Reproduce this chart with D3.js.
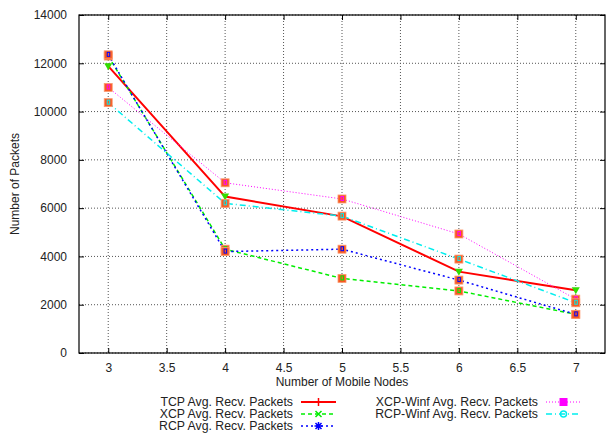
<!DOCTYPE html>
<meta charset="utf-8">
<style>
    body {
        margin: 0;
        background: #fff;
    }
    text {
        font-family: "Liberation Sans", Arial, sans-serif;
        font-size: 12px;
        fill: #222;
    }
</style>

<body>
    <script src="https://cdn.jsdelivr.net/npm/d3@7"></script>
    <script>
        // values
        var nodes = [3, 4, 5, 6, 7];
        var tcp = [11880, 6480, 5660, 3370, 2600];
        var xcp = [12300, 4300, 3090, 2570, 1600];
        var rcp = [12350, 4200, 4300, 3020, 1600];
        var xcpWinf = [11000, 7050, 6380, 4930, 2230];
        var rcpWinf = [10370, 6200, 5670, 3890, 2080];

        var xTicks = [3, 3.5, 4, 4.5, 5, 5.5, 6, 6.5, 7];
        var yTicks = [0, 2000, 4000, 6000, 8000, 10000, 12000, 14000];

        var series = [
            { name: "TCP Avg. Recv. Packets", values: tcp, color: "#ff0000", width: 2, dash: null, mark: "plus" },
            { name: "XCP Avg. Recv. Packets", values: xcp, color: "#00ee00", width: 1.5, dash: "4,3", mark: "cross" },
            { name: "RCP Avg. Recv. Packets", values: rcp, color: "#0000ff", width: 1.5, dash: "2,3", mark: "star" },
            { name: "XCP-Winf Avg. Recv. Packets", values: xcpWinf, color: "#ff00ff", width: 1, dash: "1,2", mark: "square" },
            { name: "RCP-Winf Avg. Recv. Packets", values: rcpWinf, color: "#00eeee", width: 1.5, dash: "6,3,1,3", mark: "circle" }
        ];

        var width = 606,
            height = 434,
            plotLeft = 79,
            plotRight = 605,
            plotTop = 15,
            plotBottom = 353;

        var x = d3.scaleLinear().domain([2.75, 7.25]).range([plotLeft, plotRight]);
        var y = d3.scaleLinear().domain([0, 14000]).range([plotBottom, plotTop]);

        var svg = d3.select("body").append("svg")
            .attr("width", width)
            .attr("height", height);

        // grid
        svg.append("g").selectAll("line").data(xTicks).enter().append("line")
            .attr("x1", function (d) { return x(d); })
            .attr("x2", function (d) { return x(d); })
            .attr("y1", plotTop).attr("y2", plotBottom)
            .attr("stroke", "#555").attr("stroke-dasharray", "1,2");
        svg.append("g").selectAll("line").data(yTicks).enter().append("line")
            .attr("x1", plotLeft).attr("x2", plotRight)
            .attr("y1", function (d) { return y(d); })
            .attr("y2", function (d) { return y(d); })
            .attr("stroke", "#555").attr("stroke-dasharray", "1,2");

        // axes, ticks point inward on all four sides
        svg.append("g").attr("transform", "translate(0," + plotBottom + ")")
            .call(d3.axisBottom(x).tickValues(xTicks).tickSizeInner(-5).tickSizeOuter(0).tickPadding(10).tickFormat(d3.format("")));
        svg.append("g").attr("transform", "translate(0," + plotTop + ")")
            .call(d3.axisTop(x).tickValues(xTicks).tickSizeInner(-5).tickSizeOuter(0).tickFormat(""));
        svg.append("g").attr("transform", "translate(" + plotLeft + ",0)")
            .call(d3.axisLeft(y).tickValues(yTicks).tickSizeInner(-5).tickSizeOuter(0).tickPadding(12).tickFormat(d3.format("d")));
        svg.append("g").attr("transform", "translate(" + plotRight + ",0)")
            .call(d3.axisRight(y).tickValues(yTicks).tickSizeInner(-5).tickSizeOuter(0).tickFormat(""));
        svg.selectAll(".domain").remove();
        svg.selectAll(".tick text").style("font-size", "12px").attr("fill", "#222")
            .style("font-family", "'Liberation Sans', Arial, sans-serif");

        svg.append("rect")
            .attr("x", plotLeft).attr("y", plotTop)
            .attr("width", plotRight - plotLeft).attr("height", plotBottom - plotTop)
            .attr("fill", "none").attr("stroke", "#000").attr("stroke-width", 1.2);

        // lines
        var line = d3.line()
            .x(function (d, i) { return x(nodes[i]); })
            .y(function (d) { return y(d); });

        series.forEach(function (s) {
            svg.append("path")
                .attr("d", line(s.values))
                .attr("fill", "none")
                .attr("stroke", s.color)
                .attr("stroke-width", s.width)
                .attr("stroke-dasharray", s.dash);
        });

        function drawMark(g, type, color) {
            if (type == "plus") {
                g.append("path").attr("d", "M-4,0H4M0,-4V4").attr("stroke", color).attr("stroke-width", 1.5);
            } else if (type == "cross") {
                g.append("path").attr("d", "M-3,-3L3,3M-3,3L3,-3").attr("stroke", color).attr("stroke-width", 1.5);
            } else if (type == "star") {
                g.append("path").attr("d", "M-3,-3L3,3M-3,3L3,-3M-4,0H4M0,-4V4").attr("stroke", color).attr("stroke-width", 1.5);
            } else if (type == "square") {
                g.append("rect").attr("x", -4).attr("y", -4).attr("width", 8).attr("height", 8).attr("fill", color);
            } else {
                g.append("circle").attr("r", 3).attr("fill", "none").attr("stroke", color).attr("stroke-width", 1.5);
            }
        }

        // point marks: green triangles on TCP, orange squares on the rest
        series.forEach(function (s, k) {
            var pts = svg.append("g").selectAll("g").data(s.values).enter().append("g")
                .attr("transform", function (d, i) { return "translate(" + x(nodes[i]) + "," + y(d) + ")"; });
            if (k == 0) {
                pts.append("path").attr("d", "M-4,-3L4,-3L0,4Z").attr("fill", "#33dd00");
            } else {
                pts.append("rect").attr("x", -4).attr("y", -4).attr("width", 8).attr("height", 8)
                    .attr("fill", "#f85a22").attr("stroke", "#fb9a70").attr("stroke-width", 0.8);
                pts.append("rect").attr("x", -1).attr("y", -2.5).attr("width", 2.5).attr("height", 4)
                    .attr("fill", "none").attr("stroke", s.color).attr("stroke-width", 1);
            }
        });

        // axis titles
        svg.append("text")
            .attr("x", (plotLeft + plotRight) / 2).attr("y", 386)
            .attr("text-anchor", "middle")
            .text("Number of Mobile Nodes");
        svg.append("text")
            .attr("transform", "translate(19," + (plotTop + plotBottom) / 2 + ") rotate(-90)")
            .attr("text-anchor", "middle")
            .text("Number of Packets");

        // legend
        var legendPos = [[293, 402], [293, 414], [293, 426], [538, 402], [538, 414]];
        series.forEach(function (s, k) {
            var p = legendPos[k];
            var g = svg.append("g").attr("transform", "translate(" + p[0] + "," + p[1] + ")");
            g.append("text").attr("text-anchor", "end").attr("y", 4).style("font-size", "12.3px").text(s.name);
            g.append("line").attr("x1", 8).attr("x2", 43)
                .attr("stroke", s.color).attr("stroke-width", s.width).attr("stroke-dasharray", s.dash);
            drawMark(g.append("g").attr("transform", "translate(25.5,0)"), s.mark, s.color);
        });
    </script>
